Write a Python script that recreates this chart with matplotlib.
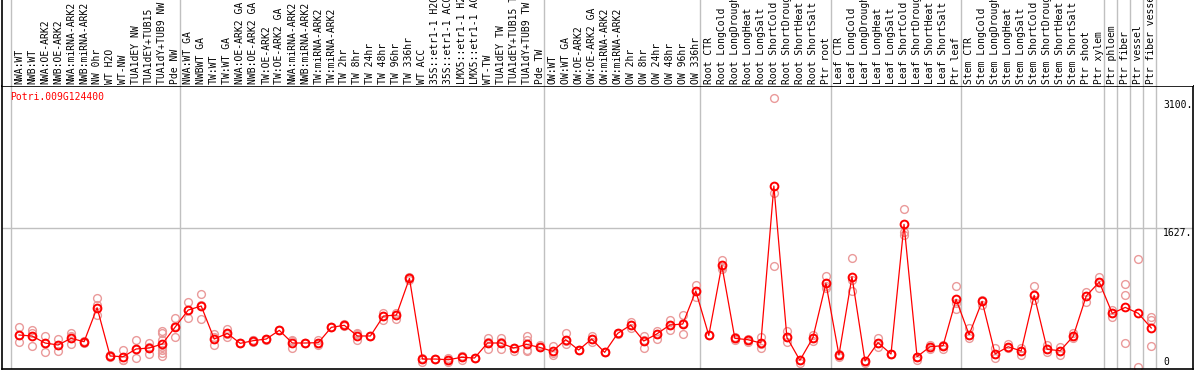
import numpy as np
import matplotlib
matplotlib.use("Agg")
import matplotlib.pyplot as plt

gene = "Potri.009G124400"

labels = ["NWA:WT", "NWB:WT", "NWA:OE-ARK2", "NWB:OE-ARK2", "NWA:miRNA-ARK2", "NWB:miRNA-ARK2",
          "NW 0hr", "WT H2O", "WT-NW", "TUA1dEY NW", "TUA1dEY+TUB15", "TUA1dY+TUB9 NW", "Pde NW",
          "NWA:WT GA", "NWBWT GA", "TW:WT", "TW:WT GA", "NWA:OE-ARK2 GA", "NWB:OE-ARK2 GA",
          "TW:OE-ARK2", "TW:OE-ARK2 GA", "NWA:miRNA-ARK2", "NWB:miRNA-ARK2", "TW:miRNA-ARK2",
          "TW:miRNA-ARK2", "TW 2hr", "TW 8hr", "TW 24hr", "TW 48hr", "TW 96hr", "TW 336hr", "WT ACC",
          "35S::etr1-1 H2O", "35S::etr1-1 ACC", "LMX5::etr1-1 H2O", "LMX5::etr1-1 ACC", "WT-TW",
          "TUA1dEY TW", "TUA1dEY+TUB15 TW", "TUA1dY+TUB9 TW", "Pde TW",
          "OW:WT", "OW:WT GA", "OW:OE-ARK2", "OW:OE-ARK2 GA", "OW:miRNA-ARK2", "OW:miRNA-ARK2",
          "OW 2hr", "OW 8hr", "OW 24hr", "OW 48hr", "OW 96hr", "OW 336hr",
          "Root CTR", "Root LongCold", "Root LongDrought", "Root LongHeat", "Root LongSalt",
          "Root ShortCold", "Root ShortDrought", "Root ShortHeat", "Root ShortSalt", "Ptr root",
          "Leaf CTR", "Leaf LongCold", "Leaf LongDrought", "Leaf LongHeat", "Leaf LongSalt",
          "Leaf ShortCold", "Leaf ShortDrought", "Leaf ShortHeat", "Leaf ShortSalt", "Ptr leaf",
          "Stem CTR", "Stem LongCold", "Stem LongDrought", "Stem LongHeat", "Stem LongSalt",
          "Stem ShortCold", "Stem ShortDrought", "Stem ShortHeat", "Stem ShortSalt", "Ptr shoot",
          "Ptr xylem", "Ptr phloem", "Ptr fiber", "Ptr vessel", "Ptr fiber vessel"]

# first sample of each group (gray separators)
group_starts = [0, 13, 41, 53, 63, 73, 84, 85, 86, 87, 88]

means = [392, 381, 300, 277, 354, 315, 707, 150, 142, 231, 242, 288, 484,
         680, 727, 346, 411, 296, 327, 346, 446, 300, 300, 304, 481, 504, 381, 381,
         611, 623, 1046, 115, 115, 107, 135, 127, 300, 300, 242, 284, 250, 204, 338,
         219, 346, 192, 411, 507, 323, 404, 507, 519, 900,
         388, 1196, 354, 338, 300, 2111, 365, 100, 361, 988,
         161, 1065, 92, 304, 173, 1669, 142, 257, 269, 804,
         396, 781, 173, 257, 208, 850, 227, 211, 377, 842, 1003,
         642, 711, 642, 473]

reps = [[484, 392, 308], [450, 411, 269], [381, 300, 192], [346, 277, 204], [411, 384, 288],
        [315, 305, 325], [815, 738, 623], [150, 140, 160], [219, 104, 104], [334, 231, 127],
        [304, 250, 169], [438, 411, 334, 257, 219, 180, 150], [588, 500, 365],
        [773, 680, 585], [865, 740, 573], [400, 365, 273], [461, 400, 373], [296, 296, 296],
        [334, 330, 315], [350, 346, 340], [446, 446, 446], [334, 320, 246], [300, 300, 300],
        [334, 300, 277], [481, 481, 481], [516, 504, 492], [411, 400, 334], [381, 381, 381],
        [650, 611, 565], [650, 623, 573],
        [1060, 1046, 1030], [115, 85, 130], [115, 115, 115], [130, 107, 85], [150, 150, 100],
        [127, 127, 127], [361, 310, 227], [361, 310, 227], [242, 242, 210], [381, 334, 219, 204],
        [273, 250, 250], [265, 188, 160], [411, 320, 284], [219, 219, 219], [381, 346, 311],
        [192, 192, 192], [411, 411, 400], [546, 507, 469], [381, 340, 246], [438, 404, 346],
        [565, 507, 450], [623, 535, 400], [969, 900, 834],
        [388, 388, 388], [1257, 1180, 1150], [365, 354, 334], [350, 338, 311], [373, 290, 238],
        [3125, 2034, 1188], [438, 365, 315], [100, 100, 70], [392, 361, 323], [1073, 960, 931],
        [173, 161, 142], [1277, 1027, 900], [92, 92, 73], [354, 304, 257], [173, 173, 173],
        [1842, 1584, 1546], [142, 142, 104], [277, 257, 230], [277, 269, 230], [957, 757, 688],
        [469, 396, 354], [792, 781, 742], [238, 173, 123], [284, 257, 246], [238, 208, 161],
        [957, 850, 796], [277, 227, 200], [257, 211, 161], [419, 377, 354], [892, 842, 769],
        [1065, 1003, 931],
        [680, 642, 596], [980, 853, 296], [1265, 20], [596, 565, 265]]

y_ticks = [0, 1627, 3100]

W, H = 1194, 370
fig = plt.figure(figsize=(W / 100, H / 100), dpi=100)
mono = "DejaVu Sans Mono"
fsize = 7.0

# pixel layout of the reference
left_px, right_px, sep_px, bot_px = 2, 1193, 86, 369
x0_px, step_px = 19, 13.015
ymax = (bot_px - sep_px) / (141 / 1627)

ax = fig.add_axes([left_px / W, (H - bot_px) / H, (right_px - left_px) / W, (bot_px - sep_px) / H])
hd = fig.add_axes([left_px / W, (H - sep_px) / H, (right_px - left_px) / W, sep_px / H], sharex=ax)

xlim = ((left_px - x0_px) / step_px, (right_px - x0_px) / step_px)
ax.set_xlim(*xlim)
ax.set_ylim(0, ymax)
hd.set_ylim(0, 1)

for a in (ax, hd):
    a.set_xticks([])
    a.set_yticks([])
    for s in a.spines.values():
        s.set_color("black")
        s.set_linewidth(1.2)
hd.spines["top"].set_visible(False)
hd.spines["right"].set_visible(False)
hd.spines["bottom"].set_visible(False)

# vertical separators between groups
off = 0.64
for g in group_starts:
    for a in (ax, hd):
        a.axvline(g - off, color="#c0c0c0", lw=1.0, zorder=1)

# horizontal gridline at middle tick
ax.axhline(y_ticks[1], color="#c0c0c0", lw=1.0, xmax=(group_starts[-1] - off - xlim[0]) / (xlim[1] - xlim[0]) + 0.04, zorder=1)

x = np.arange(len(labels))

# replicates
for i, r in enumerate(reps):
    ax.plot([i] * len(r), r, "o", ms=5.6, mfc="none", mec="#ea9a9a", mew=1.0, zorder=2, clip_on=False)

# means
ax.plot(x, means, "-", color="red", lw=0.9, zorder=3)
ax.plot(x, means, "o", ms=5.6, mfc="none", mec="red", mew=1.4, zorder=4)

# header labels
for i, lab in enumerate(labels):
    hd.text(i, 0.025, lab, rotation=90, rotation_mode="anchor", ha="left", va="center",
            family=mono, fontsize=fsize, color="black")

ax.text(8 / (right_px - left_px), (bot_px - 97) / (bot_px - sep_px), gene, transform=ax.transAxes,
        ha="left", va="center", family=mono, fontsize=fsize, color="red")

# y labels on the right strip
lab_x = (1163 - x0_px) / step_px
ax.text(lab_x, y_ticks[2], "3100.", ha="left", va="top", family=mono, fontsize=fsize)
ax.text(lab_x, y_ticks[1], "1627.", ha="left", va="top", family=mono, fontsize=fsize)
ax.text(lab_x, 81, "0", ha="left", va="center", family=mono, fontsize=fsize)

fig.savefig("out.png", dpi=100)
